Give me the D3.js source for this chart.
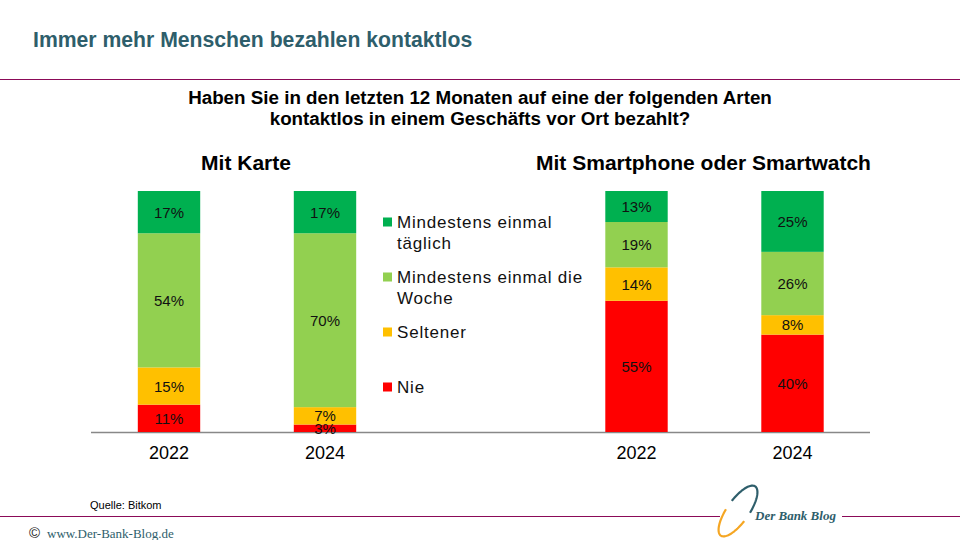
<!DOCTYPE html>
<html><head><meta charset="utf-8">
<script src="https://cdn.jsdelivr.net/npm/d3@7"></script>
<style>
html,body{margin:0;padding:0;background:#fff;}
svg{display:block;font-family:"Liberation Sans",Arial,sans-serif;}
</style></head>
<body>
<svg id="c" width="960" height="540"></svg>
<script>
// ---- data ----
const years = ["2022", "2024"];
const seriesNames = ["Nie", "Seltener", "Mindestens einmal die Woche", "Mindestens einmal täglich"];
const seriesKeys = ["nie", "selten", "woche", "taeglich"];
const karteNie = [11, 3];
const karteSeltener = [15, 7];
const karteWoche = [54, 70];
const karteTaeglich = [17, 17];
const phoneNie = [55, 40];
const phoneSeltener = [14, 8];
const phoneWoche = [19, 26];
const phoneTaeglich = [13, 25];
const colors = ["#ff0000", "#ffc000", "#92d050", "#00b050"];
const legendLines = [["Mindestens einmal", "täglich"], ["Mindestens einmal die", "Woche"], ["Seltener"], ["Nie"]];

const svg = d3.select("#c");
const teal = "#2e5e6b", purple = "#8b0a58";

// header
svg.append("text").attr("x", 33).attr("y", 47).attr("font-size", 21.2).attr("font-weight", "bold")
  .attr("fill", teal).text("Immer mehr Menschen bezahlen kontaktlos");
svg.append("line").attr("x1", 0).attr("x2", 960).attr("y1", 79.5).attr("y2", 79.5).attr("stroke", purple).attr("stroke-width", 1.2);

svg.append("text").attr("x", 480).attr("y", 104).attr("text-anchor", "middle").attr("font-size", 18.8)
  .attr("font-weight", "bold").text("Haben Sie in den letzten 12 Monaten auf eine der folgenden Arten");
svg.append("text").attr("x", 480).attr("y", 125).attr("text-anchor", "middle").attr("font-size", 18.8)
  .attr("font-weight", "bold").text("kontaktlos in einem Geschäfts vor Ort bezahlt?");

const y = d3.scaleLinear().domain([0, 1]).range([432, 191]);
const stack = d3.stack().keys(seriesKeys).offset(d3.stackOffsetExpand);

function panel(title, titleX, x0, nie, sel, woc, tae) {
  const rows = years.map((yr, i) => ({year: yr, nie: nie[i], selten: sel[i], woche: woc[i], taeglich: tae[i]}));
  const x = d3.scaleBand().domain(years).range([x0, x0 + 312]).paddingInner(0.6).paddingOuter(0.3);
  const layers = stack(rows);
  const g = svg.append("g");
  g.append("text").attr("x", titleX).attr("y", 170).attr("text-anchor", "middle")
    .attr("font-size", 21).attr("font-weight", "bold").text(title);
  layers.forEach((layer, li) => {
    g.selectAll(null).data(layer).join("rect")
      .attr("x", d => x(d.data.year)).attr("width", x.bandwidth())
      .attr("y", d => y(d[1])).attr("height", d => y(d[0]) - y(d[1]))
      .attr("fill", colors[li]);
  });
  layers.forEach((layer, li) => {
    g.selectAll(null).data(layer).join("text")
      .attr("x", d => x(d.data.year) + x.bandwidth() / 2)
      .attr("y", d => (y(d[0]) + y(d[1])) / 2 + 5.5)
      .attr("text-anchor", "middle").attr("font-size", 15).attr("fill", "#111")
      .text(d => d.data[layer.key] + "%");
  });
  const ax = d3.axisBottom(x).tickSize(0).tickPadding(14);
  const ag = g.append("g").attr("transform", "translate(0,432)").call(ax);
  ag.select(".domain").remove();
  ag.selectAll("text").attr("font-size", 18).attr("fill", "#000").attr("font-family", "Liberation Sans, Arial, sans-serif");
  return x;
}
svg.append("line").attr("x1", 91).attr("x2", 870).attr("y1", 432.5).attr("y2", 432.5).attr("stroke", "#888").attr("stroke-width", 1.5);
panel("Mit Karte", 246, 91, karteNie, karteSeltener, karteWoche, karteTaeglich);
panel("Mit Smartphone oder Smartwatch", 703.5, 558.5, phoneNie, phoneSeltener, phoneWoche, phoneTaeglich);

// legend (top to bottom: täglich, Woche, Seltener, Nie)
const legY = [222, 277, 332, 387];
[3, 2, 1, 0].forEach((si, i) => {
  svg.append("rect").attr("x", 383).attr("y", legY[i] - 4.5).attr("width", 9).attr("height", 9).attr("fill", colors[si]);
  legendLines[i].forEach((ln, k) => {
    svg.append("text").attr("x", 397).attr("y", legY[i] + 6 + k * 21).attr("font-size", 17)
      .attr("letter-spacing", 0.8).attr("fill", "#111").text(ln);
  });
});

// footer
svg.append("text").attr("x", 90).attr("y", 509).attr("font-size", 11).attr("fill", "#000").text("Quelle: Bitkom");
svg.append("line").attr("x1", 0).attr("x2", 720).attr("y1", 516.5).attr("y2", 516.5).attr("stroke", purple).attr("stroke-width", 1.2);
svg.append("line").attr("x1", 842).attr("x2", 960).attr("y1", 516.5).attr("y2", 516.5).attr("stroke", purple).attr("stroke-width", 1.2);
// logo swoosh
const lg = svg.append("g").attr("transform", "translate(738,511) rotate(35)");
const ell = (a0, a1) => {
  const pts = d3.range(a0, a1 + 0.01, 0.05).map(a => [11 * Math.cos(a), 30 * Math.sin(a)]);
  return d3.line()(pts);
};
lg.append("path").attr("d", ell(-Math.PI * 0.95, -Math.PI * 0.05)).attr("fill", "none").attr("stroke", teal).attr("stroke-width", 2.2);
lg.append("path").attr("d", ell(Math.PI * 0.05, Math.PI * 0.95)).attr("fill", "none").attr("stroke", "#f5a623").attr("stroke-width", 2.2);
svg.append("text").attr("x", 755).attr("y", 520).attr("font-size", 13).attr("font-style", "italic").attr("font-weight", "bold")
  .attr("font-family", "Liberation Serif, serif").attr("fill", teal).text("Der Bank Blog");
svg.append("text").attr("x", 29).attr("y", 538).attr("font-size", 15).attr("fill", "#222").text("©");
svg.append("text").attr("x", 47).attr("y", 538).attr("font-size", 13).attr("font-family", "Liberation Serif, serif")
  .attr("fill", teal).text("www.Der-Bank-Blog.de");
</script>
</body></html>
